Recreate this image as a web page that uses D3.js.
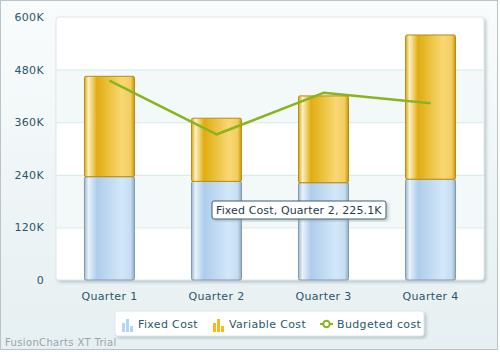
<!DOCTYPE html>
<html>
<head>
<meta charset="utf-8">
<script src="https://cdn.jsdelivr.net/npm/d3@7"></script>
<style>
  body { margin: 0; background: #fff; }
  text { font-family: Verdana, "DejaVu Sans", sans-serif; letter-spacing: 0.35px; }
</style>
</head>
<body>
<div id="chart"></div>
<script>
// Data
const quarters = ["Quarter 1", "Quarter 2", "Quarter 3", "Quarter 4"];
const fixedCost = [235700, 225100, 222000, 230000];
const variableCost = [229000, 144000, 198000, 329000];
const budgetedCost = [455000, 332000, 427000, 403000];
const yTicks = [0, 120000, 240000, 360000, 480000, 600000];
const yTickLabels = ["0", "120K", "240K", "360K", "480K", "600K"];
const seriesNames = ["Fixed Cost", "Variable Cost", "Budgeted cost"];

const width = 500, height = 352,
    margin = ({ top: 17, right: 16, bottom: 72, left: 56 });

const svg = d3.select("#chart")
    .append("svg")
    .attr("width", width)
    .attr("height", height);

const defs = svg.append("defs");

// background gradient
const bg = defs.append("linearGradient").attr("id", "bg")
    .attr("x1", 0).attr("y1", 0).attr("x2", 0).attr("y2", 1);
bg.append("stop").attr("offset", "0%").attr("stop-color", "#F9FCFD");
bg.append("stop").attr("offset", "100%").attr("stop-color", "#E6EFF1");

// bar gradients
function barGradient(id, stops) {
  const g = defs.append("linearGradient").attr("id", id)
      .attr("x1", 0).attr("y1", 0).attr("x2", 1).attr("y2", 0);
  stops.forEach(s => g.append("stop").attr("offset", s[0]).attr("stop-color", s[1]));
}
barGradient("fixedGrad", [["0%", "#9DB8D0"], ["8%", "#E8F2FB"], ["25%", "#AECDEB"], ["75%", "#D3E7F9"], ["92%", "#C6DDF2"], ["100%", "#95AFC6"]]);
barGradient("varGrad", [["0%", "#D9A514"], ["8%", "#FDF0C2"], ["25%", "#E1AC12"], ["75%", "#F9D873"], ["92%", "#F2CD60"], ["100%", "#C9980F"]]);

const shadow = defs.append("filter").attr("id", "shadow")
    .attr("x", "-5%").attr("y", "-5%").attr("width", "115%").attr("height", "120%");
shadow.append("feDropShadow").attr("dx", 2).attr("dy", 2).attr("stdDeviation", 1.5)
    .attr("flood-color", "#8A9CA4").attr("flood-opacity", 0.5);

// outer background
svg.append("rect")
    .attr("x", 0.5).attr("y", 0.5)
    .attr("width", width - 3).attr("height", height - 3)
    .attr("fill", "url(#bg)")
    .attr("stroke", "#B8C4C9");

// scales
const x = d3.scaleBand()
    .domain(quarters)
    .range([margin.left, width - margin.right])
    .paddingInner(0.533)
    .paddingOuter(0.266);

const y = d3.scaleLinear()
    .domain([0, 600000])
    .range([height - margin.bottom, margin.top]);

// canvas
svg.append("rect")
    .attr("x", margin.left).attr("y", margin.top)
    .attr("width", width - margin.left - margin.right)
    .attr("height", height - margin.top - margin.bottom)
    .attr("rx", 3)
    .attr("fill", "#fff")
    .attr("stroke", "#DDE6E9")
    .attr("filter", "url(#shadow)");

// alternate bands
const bands = [[120000, 240000], [360000, 480000]];
svg.selectAll(".band")
    .data(bands)
    .join("rect")
    .attr("class", "band")
    .attr("x", margin.left + 1)
    .attr("width", width - margin.left - margin.right - 2)
    .attr("y", d => y(d[1]))
    .attr("height", d => y(d[0]) - y(d[1]))
    .attr("fill", "#F3F8F9");

// y-axis with gridlines
const yAxis = svg.append("g")
    .attr("transform", `translate(${margin.left},0)`)
    .call(d3.axisLeft(y).tickValues(yTicks)
      .tickFormat((d, i) => yTickLabels[i])
      .tickSize(-(width - margin.left - margin.right)).tickPadding(12));
yAxis.select(".domain").remove();
yAxis.selectAll("line")
    .attr("stroke", d => (d === 0 || d === 600000) ? "none" : "#D6E8EC");
yAxis.selectAll("text")
    .attr("fill", "#2C566B")
    .attr("font-size", 11)
    .attr("font-family", 'Verdana, "DejaVu Sans", sans-serif');

// x-axis
const xAxis = svg.append("g")
    .attr("transform", `translate(0,${height - margin.bottom})`)
    .call(d3.axisBottom(x).tickSize(0).tickPadding(12));
xAxis.select(".domain").remove();
xAxis.selectAll("text")
    .attr("fill", "#2C566B")
    .attr("font-size", 11)
    .attr("font-family", 'Verdana, "DejaVu Sans", sans-serif');

// stacked bars
const stackData = quarters.map((q, i) => ({ q: q, fixed: fixedCost[i], variable: variableCost[i] }));
const stack = d3.stack().keys(["fixed", "variable"])(stackData);
const fills = { fixed: "url(#fixedGrad)", variable: "url(#varGrad)" };
const strokes = { fixed: "#7F9AB1", variable: "#B88D12" };

stack.forEach(layer => {
  svg.append("g")
    .selectAll("rect")
    .data(layer)
    .join("rect")
    .attr("x", d => x(d.data.q))
    .attr("width", x.bandwidth())
    .attr("y", d => y(d[1]))
    .attr("height", d => y(d[0]) - y(d[1]))
    .attr("rx", 1.5)
    .attr("fill", fills[layer.key])
    .attr("stroke", strokes[layer.key])
    .attr("stroke-width", 1);
});

// budgeted line
const line = d3.line()
    .x((d, i) => x(quarters[i]) + x.bandwidth() / 2)
    .y(d => y(d));

svg.append("path")
    .datum(budgetedCost)
    .attr("d", line)
    .attr("fill", "none")
    .attr("stroke", "#8AB41E")
    .attr("stroke-width", 2.5)
    .attr("stroke-linejoin", "round");

// tooltip
const tip = svg.append("g")
    .attr("transform", `translate(212,201)`);
tip.append("rect")
    .attr("width", 174).attr("height", 18)
    .attr("rx", 2)
    .attr("fill", "#fff")
    .attr("stroke", "#3E5E70")
    .attr("filter", "url(#shadow)");
tip.append("text")
    .attr("x", 4).attr("y", 13)
    .attr("font-size", 11)
    .style("letter-spacing", "0.12px")
    .attr("fill", "#1F3C4C")
    .text("Fixed Cost, Quarter 2, 225.1K");

// legend
const legend = svg.append("g").attr("transform", "translate(115,311)");
legend.append("rect")
    .attr("width", 309).attr("height", 25)
    .attr("rx", 3)
    .attr("fill", "#fff")
    .attr("stroke", "#E0E7EA")
    .attr("filter", "url(#shadow)");

const iconX = [7, 98, 205];
const textX = [23, 114, 222];
const iconColors = ["#B5D6F3", "#F7BA1E"];
[0, 1].forEach(k => {
  const g = legend.append("g").attr("transform", `translate(${iconX[k]},6)`);
  [[0, 6, 9], [4, 2, 13], [8, 9, 6]].forEach(b => {
    g.append("rect").attr("x", b[0]).attr("y", b[1]).attr("width", 3).attr("height", b[2])
      .attr("fill", iconColors[k]);
  });
});
const lg = legend.append("g").attr("transform", `translate(${iconX[2]},13)`);
lg.append("line").attr("x1", 0).attr("x2", 13).attr("stroke", "#8AB41E").attr("stroke-width", 2);
lg.append("circle").attr("cx", 6.5).attr("r", 3.2).attr("fill", "#fff")
    .attr("stroke", "#8AB41E").attr("stroke-width", 2);

legend.selectAll(".ltext")
    .data(seriesNames)
    .join("text")
    .attr("class", "ltext")
    .attr("x", (d, i) => textX[i])
    .attr("y", 17)
    .attr("font-size", 11)
    .attr("fill", "#2C566B")
    .text(d => d);

// trial label
svg.append("text")
    .attr("x", 5).attr("y", 346)
    .attr("font-size", 10)
    .attr("fill", "#9AA6AB")
    .text("FusionCharts XT Trial");
</script>
</body>
</html>
